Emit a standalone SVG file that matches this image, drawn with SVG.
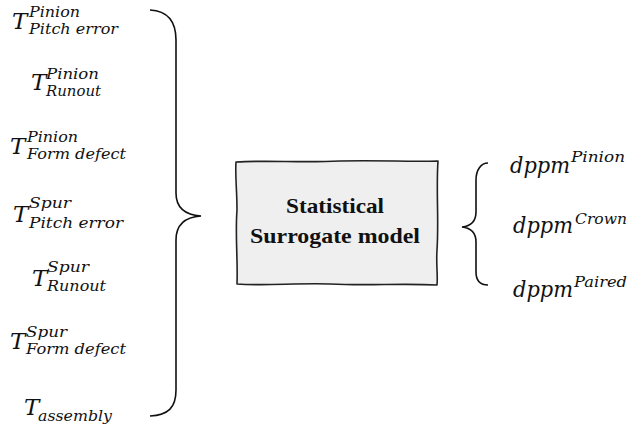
<svg xmlns="http://www.w3.org/2000/svg" width="629" height="433" viewBox="0 0 629 433">
<style>
.m{font-family:"DejaVu Serif","Liberation Serif",serif;font-style:italic;fill:#111}
.b{font-size:23px}
.s{font-size:15px}
.box{fill:#efefef;stroke:#222;stroke-width:1.6;stroke-linejoin:round}
.lbl{font-family:"Liberation Serif","Times New Roman",serif;font-weight:bold;font-size:21px;fill:#111;text-anchor:middle}
.br{fill:none;stroke:#111;stroke-width:1.6}
</style>
<rect width="629" height="433" fill="#fff"/>
<g id="connectors">
<path class="br" d="M150,10 C168,11 176,22 176,40 L176,193 C176,208 186,215 201,216 C186,217 176,224 176,240 L176,390 C176,408 168,415 150,416"/>
<path class="br" d="M488,163 C481,163 476,170 476,180 L476,212 C476,221 471,226 462,227 C471,228 476,233 476,242 L476,272 C476,281 481,285 488,285"/>
</g>
<g id="in1" class="m"><text class="b" x="12" y="29">T</text><text class="s" x="29" y="17" textLength="51" lengthAdjust="spacingAndGlyphs">Pinion</text><text class="s" x="29" y="34" textLength="89" lengthAdjust="spacingAndGlyphs">Pitch error</text></g>
<g id="in2" class="m"><text class="b" x="31" y="90">T</text><text class="s" x="46" y="79" textLength="53" lengthAdjust="spacingAndGlyphs">Pinion</text><text class="s" x="46" y="96" textLength="55" lengthAdjust="spacingAndGlyphs">Runout</text></g>
<g id="in3" class="m"><text class="b" x="10" y="154">T</text><text class="s" x="27" y="142" textLength="51" lengthAdjust="spacingAndGlyphs">Pinion</text><text class="s" x="27" y="159" textLength="99" lengthAdjust="spacingAndGlyphs">Form defect</text></g>
<g id="in4" class="m"><text class="b" x="13" y="222">T</text><text class="s" x="29" y="208" textLength="42" lengthAdjust="spacingAndGlyphs">Spur</text><text class="s" x="29" y="228" textLength="94" lengthAdjust="spacingAndGlyphs">Pitch error</text></g>
<g id="in5" class="m"><text class="b" x="32" y="286">T</text><text class="s" x="47" y="272" textLength="42" lengthAdjust="spacingAndGlyphs">Spur</text><text class="s" x="47" y="291" textLength="59" lengthAdjust="spacingAndGlyphs">Runout</text></g>
<g id="in6" class="m"><text class="b" x="10" y="349">T</text><text class="s" x="26" y="337" textLength="41" lengthAdjust="spacingAndGlyphs">Spur</text><text class="s" x="26" y="354" textLength="100" lengthAdjust="spacingAndGlyphs">Form defect</text></g>
<g id="in7" class="m"><text class="b" x="24" y="415">T</text><text class="s" x="38" y="421" textLength="74" lengthAdjust="spacingAndGlyphs">assembly</text></g>
<g id="model">
<path class="box" d="M236,162 C270,160 300,163 340,161 C380,160 410,162 438,161 C436,190 439,220 437,250 C436,265 438,275 437,285 C400,283 370,286 330,284 C295,283 265,286 237,284 C238,260 235,235 237,210 C237,190 235,175 236,162 Z"/>
<text class="lbl" x="335" y="213" textLength="98" lengthAdjust="spacingAndGlyphs">Statistical</text>
<text class="lbl" x="335" y="243" textLength="170" lengthAdjust="spacingAndGlyphs">Surrogate model</text>
</g>
<g id="out1" class="m"><text class="b" x="510" y="173" textLength="60" lengthAdjust="spacingAndGlyphs">dppm</text><text class="s" x="571" y="162" textLength="54" lengthAdjust="spacingAndGlyphs">Pinion</text></g>
<g id="out2" class="m"><text class="b" x="513" y="233" textLength="60" lengthAdjust="spacingAndGlyphs">dppm</text><text class="s" x="575" y="224" textLength="52" lengthAdjust="spacingAndGlyphs">Crown</text></g>
<g id="out3" class="m"><text class="b" x="513" y="297" textLength="60" lengthAdjust="spacingAndGlyphs">dppm</text><text class="s" x="574" y="287" textLength="53" lengthAdjust="spacingAndGlyphs">Paired</text></g>
</svg>
